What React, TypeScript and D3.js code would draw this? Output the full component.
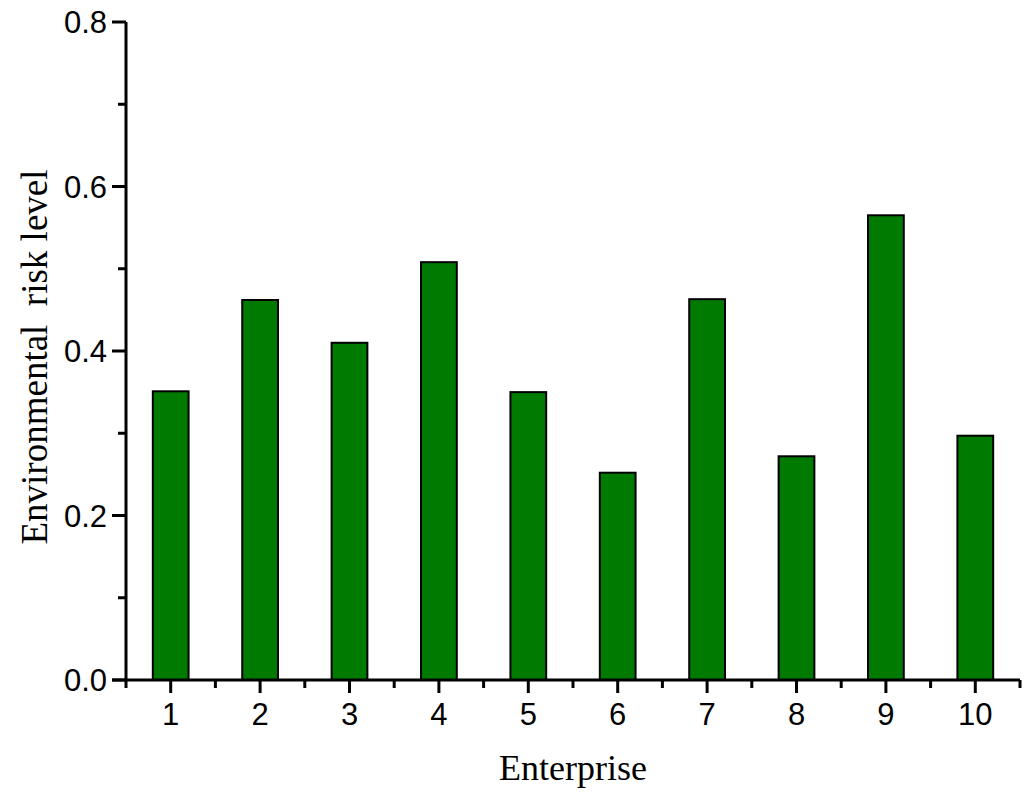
import React, { useEffect, useRef } from 'react';
import * as d3 from 'd3';

// enterprise numbers and their risk levels
const enterprises = ['1', '2', '3', '4', '5', '6', '7', '8', '9', '10'];
const riskLevels = [0.351, 0.462, 0.41, 0.508, 0.35, 0.252, 0.463, 0.272, 0.565, 0.297];
const yTicks = [0, 0.2, 0.4, 0.6, 0.8];
const yMinorTicks = [0.1, 0.3, 0.5, 0.7];

const App = () => {
    const svgRef = useRef<SVGSVGElement>(null);

    useEffect(() => {
        const svg = d3.select(svgRef.current);
        svg.selectAll('*').remove();

        const margin = { top: 22, right: 4, bottom: 114, left: 126 };
        const width = 1024;
        const height = 794;

        const x = d3
            .scaleBand()
            .domain(enterprises)
            .range([margin.left, width - margin.right])
            .paddingInner(0.6)
            .paddingOuter(0.3);

        const y = d3
            .scaleLinear()
            .domain([0, 0.8])
            .range([height - margin.bottom, margin.top]);

        const step = x.step();
        const bottom = height - margin.bottom;

        // bars
        svg.append('g')
            .selectAll('rect')
            .data(riskLevels)
            .join('rect')
            .attr('x', (d, i) => x(enterprises[i]) as number)
            .attr('y', d => y(d))
            .attr('width', x.bandwidth())
            .attr('height', d => bottom - y(d))
            .attr('fill', '#017a01')
            .attr('stroke', '#000')
            .attr('stroke-width', 2);

        // x axis
        const gx = svg.append('g').attr('stroke', '#000').attr('stroke-width', 3);
        gx.append('line')
            .attr('x1', margin.left - 14)
            .attr('x2', width - margin.right)
            .attr('y1', bottom)
            .attr('y2', bottom);
        gx.selectAll('.major')
            .data(enterprises)
            .join('line')
            .attr('class', 'major')
            .attr('x1', d => (x(d) as number) + x.bandwidth() / 2)
            .attr('x2', d => (x(d) as number) + x.bandwidth() / 2)
            .attr('y1', bottom)
            .attr('y2', bottom + 13);
        gx.selectAll('.minor')
            .data(d3.range(enterprises.length + 1))
            .join('line')
            .attr('class', 'minor')
            .attr('x1', i => margin.left + i * step)
            .attr('x2', i => margin.left + i * step)
            .attr('y1', bottom)
            .attr('y2', bottom + 8);
        svg.append('g')
            .selectAll('text')
            .data(enterprises)
            .join('text')
            .attr('x', d => (x(d) as number) + x.bandwidth() / 2)
            .attr('y', bottom + 45)
            .attr('text-anchor', 'middle')
            .attr('font-family', 'Liberation Sans, Arial, sans-serif')
            .attr('font-size', 31)
            .text(d => d);

        // y axis
        const gy = svg.append('g').attr('stroke', '#000').attr('stroke-width', 3);
        gy.append('line')
            .attr('x1', margin.left)
            .attr('x2', margin.left)
            .attr('y1', margin.top)
            .attr('y2', bottom);
        gy.selectAll('.major')
            .data(yTicks)
            .join('line')
            .attr('class', 'major')
            .attr('x1', margin.left - 14)
            .attr('x2', margin.left)
            .attr('y1', d => y(d))
            .attr('y2', d => y(d));
        gy.selectAll('.minor')
            .data(yMinorTicks)
            .join('line')
            .attr('class', 'minor')
            .attr('x1', margin.left - 8)
            .attr('x2', margin.left)
            .attr('y1', d => y(d))
            .attr('y2', d => y(d));
        svg.append('g')
            .selectAll('text')
            .data(yTicks)
            .join('text')
            .attr('x', margin.left - 19)
            .attr('y', d => y(d))
            .attr('dy', '0.36em')
            .attr('text-anchor', 'end')
            .attr('font-family', 'Liberation Sans, Arial, sans-serif')
            .attr('font-size', 31)
            .text(d => d.toFixed(1));

        // axis titles
        svg.append('text')
            .attr('x', 573)
            .attr('y', 780)
            .attr('text-anchor', 'middle')
            .attr('font-family', 'Liberation Serif, Times New Roman, serif')
            .attr('font-size', 36)
            .text('Enterprise');
        svg.append('text')
            .attr('transform', `translate(47, 357) rotate(-90)`)
            .attr('text-anchor', 'middle')
            .attr('font-family', 'Liberation Serif, Times New Roman, serif')
            .attr('font-size', 37)
            .attr('xml:space', 'preserve')
            .style('white-space', 'pre')
            .text('Environmental  risk level');
    }, []);

    return (
        <svg
            ref={svgRef}
            width={1024}
            height={794}
            style={{ position: 'absolute', left: 0, top: 0, background: '#fff' }}
        />
    );
};

export default App;
